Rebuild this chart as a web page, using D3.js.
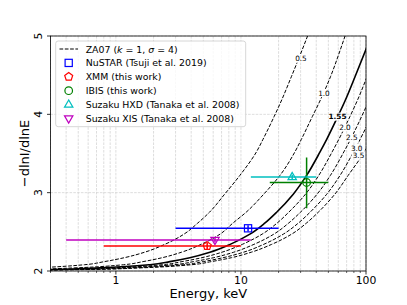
<!DOCTYPE html>
<html><head><meta charset="utf-8">
<script src="https://cdn.jsdelivr.net/npm/d3@7"></script>
<style>body{margin:0;background:#fff}svg{display:block;font-family:"DejaVu Sans",sans-serif}</style>
</head><body>
<svg id="c" width="407" height="305"></svg>
<script>
// ---- data ----
const curveLabels = ["0.5","1.0","1.55","2.0","2.5","3.0","3.5"];
const gammaLevels = [2.005,2.02,2.04,2.08,2.12,2.17,2.24,2.34,2.47,2.61,2.75,2.98,3.22,3.52,3.68,3.97,4.17,4.48,4.83,5.0];
const energy_0_5  = [0.015,0.09,0.22,0.56,0.81,1.17,1.70,2.46,3.5,4.5,5.6,7.4,9.8,13.3,15.0,18.4,21.0,25.3,31.0,34.1];
const energy_1_0  = [0.03,0.19,0.47,1.15,1.65,2.35,3.35,4.8,6.8,8.6,11.0,15.2,20.5,27.0,30.4,37.2,42.8,52.0,62.5,68.0];
const energy_1_55 = [0.05,0.3,0.74,1.87,2.7,3.9,5.65,8.2,11.8,15.5,19.3,26.2,33.5,42.9,48.5,59.4,67.9,81.7,100,110];
const energy_2_0  = [0.06,0.38,0.93,2.34,3.38,4.88,7.06,10.25,14.75,19.4,24.1,32.8,41.9,53.6,60.6,74.3,84.9,102,125,137.5];
const energy_2_5  = [0.08,0.47,1.15,2.9,4.19,6.05,8.76,12.7,18.3,24.0,29.9,40.6,51.9,66.5,75.2,92.1,105,127,155,170];
const energy_3_0  = [0.09,0.56,1.37,3.46,5.0,7.2,10.5,15.2,21.8,28.7,35.7,48.5,62.0,79.4,89.7,110,126,151,185,204];
const energy_3_5  = [0.11,0.65,1.59,4.02,5.8,8.4,12.1,17.6,25.4,33.3,41.5,56.3,72.0,97.0,110,128,146,176,215,237];
const curveEnergies = [energy_0_5,energy_1_0,energy_1_55,energy_2_0,energy_2_5,energy_3_0,energy_3_5];
const labelE = [30.2,46.1,59.2,67.9,76.9,84.3,87.1];
const labelG = [4.71,4.27,3.97,3.83,3.70,3.57,3.47];

const instruments = ["NuSTAR (Tsuji et al. 2019)","XMM (this work)","IBIS (this work)","Suzaku HXD (Tanaka et al. 2008)","Suzaku XIS (Tanaka et al. 2008)"];
const ptE  = [11.4,5.37,33.5,25.7,6.2];
const ptG  = [2.545,2.32,3.13,3.20,2.395];
const eLo  = [3.0,0.8,17.0,12.0,0.4];
const eHi  = [20.0,10.0,50.0,40.0,12.0];
const gLo  = [2.505,2.28,2.80,3.17,2.365];
const gHi  = [2.585,2.36,3.45,3.23,2.425];
const colors = ["#0000ff","#ff0000","#008000","#00bfbf","#bf00bf"];
const markers = ["square","pentagon","circle","triUp","triDown"];

const xTicks = [1,10,100];
const yTicks = [2,3,4,5];

// ---- layout ----
const L=50.5,R=366,T=36,B=271;
const svg=d3.select("#c");
const x=d3.scaleLog().domain([0.3,100]).range([L,R]);
const y=d3.scaleLinear().domain([2,5]).range([B,T]);

svg.append("defs").append("clipPath").attr("id","clip")
  .append("rect").attr("x",L).attr("y",T).attr("width",R-L).attr("height",B-T);

// grid
const minor=[];
for(let d=0.1;d<=100;d*=10){for(let k=1;k<10;k++){const v=+(k*d).toFixed(3);if(v>=0.3&&v<=100)minor.push(v);}}
minor.push(100);
const g=svg.append("g");
g.selectAll("line.vg").data(minor).join("line")
  .attr("x1",d=>x(d)).attr("x2",d=>x(d)).attr("y1",T).attr("y2",B)
  .attr("stroke","#d4d4d4").attr("stroke-width",0.8).attr("stroke-dasharray","2.6,1.2");
g.selectAll("line.hg").data(yTicks).join("line")
  .attr("x1",L).attr("x2",R).attr("y1",d=>y(d)).attr("y2",d=>y(d))
  .attr("stroke","#d4d4d4").attr("stroke-width",0.8).attr("stroke-dasharray","2.6,1.2");

// mask for inline contour labels
const mask=svg.select("defs").append("mask").attr("id","lblmask").attr("maskUnits","userSpaceOnUse")
  .attr("x",0).attr("y",0).attr("width",407).attr("height",305);
mask.append("rect").attr("x",0).attr("y",0).attr("width",407).attr("height",305).attr("fill","#fff");

const curves=svg.append("g").attr("clip-path","url(#clip)").append("g").attr("mask","url(#lblmask)");
const line=d3.line().x(d=>x(d[0])).y(d=>y(d[1])).curve(d3.curveMonotoneY);
curveEnergies.forEach((arr,i)=>{
  const pts=arr.map((e,j)=>[e,gammaLevels[j]]);
  const solid=curveLabels[i]==="1.55";
  curves.append("path").attr("d",line(pts)).attr("fill","none").attr("stroke","#000")
    .attr("stroke-width",solid?1.6:1.0).attr("stroke-dasharray",solid?null:"3.7,1.6");
});
// labels
const lblG=svg.append("g");
curveLabels.forEach((t,i)=>{
  const bold=t==="1.55";
  const tx=lblG.append("text").attr("x",x(labelE[i])).attr("y",y(labelG[i]))
    .attr("text-anchor","middle").attr("dominant-baseline","central")
    .attr("font-size",7.3).attr("font-weight",bold?"bold":"normal").text(t);
  const bb=tx.node().getBBox();
  mask.append("rect").attr("x",bb.x-1.2).attr("y",bb.y+0.5).attr("width",bb.width+2.4).attr("height",bb.height-1).attr("fill","#000");
});

// markers
function marker(sel,type,cx,cy,col){
  const s=4;
  if(type==="square") sel.append("rect").attr("x",cx-3.6).attr("y",cy-3.6).attr("width",7.2).attr("height",7.2);
  else if(type==="circle") sel.append("circle").attr("cx",cx).attr("cy",cy).attr("r",3.8);
  else {
    let pts=[];
    if(type==="pentagon"){for(let k=0;k<5;k++){const a=-Math.PI/2+k*2*Math.PI/5;pts.push([cx+4.2*Math.cos(a),cy+4.2*Math.sin(a)]);}}
    else if(type==="triUp"){pts=[[cx,cy-4.6],[cx-4.2,cy+2.6],[cx+4.2,cy+2.6]];}
    else {pts=[[cx,cy+4.6],[cx-4.2,cy-2.6],[cx+4.2,cy-2.6]];}
    sel.append("polygon").attr("points",pts.map(p=>p.join(",")).join(" "));
  }
  sel.selectAll("*").attr("fill","none").attr("stroke",col).attr("stroke-width",1.2);
}

// data points
const pg=svg.append("g").attr("clip-path","url(#clip)");
instruments.forEach((n,i)=>{
  const gg=pg.append("g");
  gg.append("line").attr("x1",x(eLo[i])).attr("x2",x(eHi[i])).attr("y1",y(ptG[i])).attr("y2",y(ptG[i]))
    .attr("stroke",colors[i]).attr("stroke-width",1.5);
  gg.append("line").attr("x1",x(ptE[i])).attr("x2",x(ptE[i])).attr("y1",y(gLo[i])).attr("y2",y(gHi[i]))
    .attr("stroke",colors[i]).attr("stroke-width",1.5);
  marker(gg.append("g"),markers[i],x(ptE[i]),y(ptG[i]),colors[i]);
});

// axes frame
svg.append("rect").attr("x",L).attr("y",T).attr("width",R-L).attr("height",B-T)
  .attr("fill","none").attr("stroke","#000").attr("stroke-width",0.8);
// x ticks
const ax=svg.append("g");
ax.selectAll("line.mn").data(minor.filter(v=>!xTicks.includes(v))).join("line")
  .attr("x1",d=>x(d)).attr("x2",d=>x(d)).attr("y1",B).attr("y2",B+2).attr("stroke","#000").attr("stroke-width",0.6);
ax.selectAll("line.mj").data(xTicks).join("line")
  .attr("x1",d=>x(d)).attr("x2",d=>x(d)).attr("y1",B).attr("y2",B+3.5).attr("stroke","#000").attr("stroke-width",0.8);
ax.selectAll("text.xt").data(xTicks).join("text")
  .attr("x",d=>x(d)).attr("y",B+12.5).attr("text-anchor","middle").attr("font-size",10.8).text(d=>d);
ax.selectAll("line.yt").data(yTicks).join("line")
  .attr("x1",L-3.5).attr("x2",L).attr("y1",d=>y(d)).attr("y2",d=>y(d)).attr("stroke","#000").attr("stroke-width",0.8);
ax.selectAll("text.ytl").data(yTicks).join("text")
  .attr("transform",d=>`translate(${L-8.8},${y(d)}) rotate(-90)`)
  .attr("text-anchor","middle").attr("font-size",10.8).text(d=>d);
svg.append("text").attr("x",(L+R)/2).attr("y",297.5).attr("text-anchor","middle").attr("font-size",13).text("Energy, keV");
svg.append("text").attr("transform",`translate(29,${(T+B)/2}) rotate(-90)`).attr("text-anchor","middle")
  .attr("font-size",13).text("\u2212dlnI/dlnE");

// legend
const lg=svg.append("g");
lg.append("rect").attr("x",55.7).attr("y",41).attr("width",190).attr("height",85.7).attr("rx",2.5)
  .attr("fill","#fff").attr("fill-opacity",0.8).attr("stroke","#cccccc").attr("stroke-width",0.8);
const rowY=i=>49+i*13.9;
lg.append("line").attr("x1",59.5).attr("x2",78).attr("y1",rowY(0)).attr("y2",rowY(0))
  .attr("stroke","#000").attr("stroke-width",1).attr("stroke-dasharray","3.7,1.6");
const za=lg.append("text").attr("x",85.7).attr("y",rowY(0)).attr("dominant-baseline","central").attr("font-size",9.4);
za.append("tspan").text("ZA07 (");
za.append("tspan").attr("font-style","italic").text("k");
za.append("tspan").text(" = 1, ");
za.append("tspan").attr("font-style","italic").text("\u03c3");
za.append("tspan").text(" = 4)");
instruments.forEach((n,i)=>{
  marker(lg.append("g"),markers[i],68.7,rowY(i+1),colors[i]);
  lg.append("text").attr("x",85.7).attr("y",rowY(i+1)).attr("dominant-baseline","central").attr("font-size",9.4).text(n);
});
</script>
</body></html>
